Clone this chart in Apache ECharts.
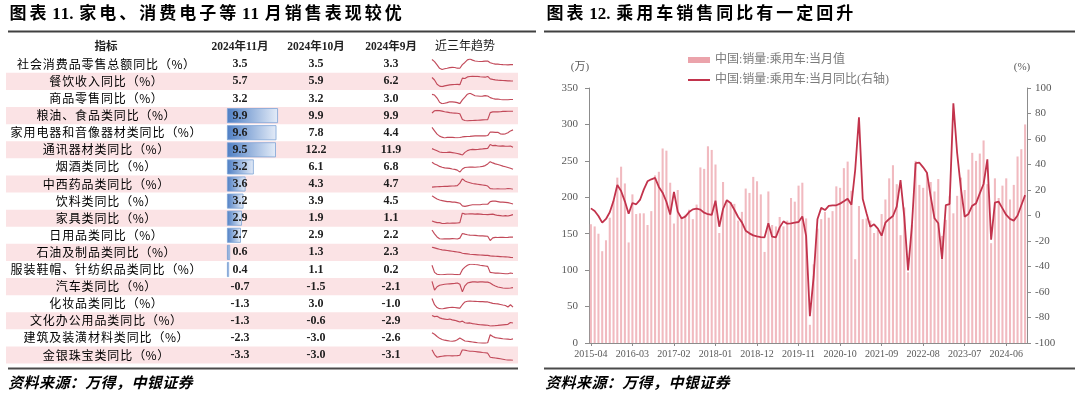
<!DOCTYPE html>
<html>
<head>
<meta charset="utf-8">
<script src="https://cdn.jsdelivr.net/npm/echarts@6.0.0/dist/echarts.min.js"></script>
<style>
html,body{margin:0;padding:0;background:#ffffff;}
#chart{width:1080px;height:395px;}
</style>
</head>
<body>
<div id="chart"></div>
<script>
// ================= LEFT TABLE DATA =================
const indicators = [
  '社会消费品零售总额同比（%）','餐饮收入同比（%）','商品零售同比（%）','粮油、食品类同比（%）',
  '家用电器和音像器材类同比（%）','通讯器材类同比（%）','烟酒类同比（%）','中西药品类同比（%）',
  '饮料类同比（%）','家具类同比（%）','日用品类同比（%）','石油及制品类同比（%）',
  '服装鞋帽、针纺织品类同比（%）','汽车类同比（%）','化妆品类同比（%）','文化办公用品类同比（%）',
  '建筑及装潢材料类同比（%）','金银珠宝类同比（%）'
];
const colHeaders = ['指标','2024年11月','2024年10月','2024年9月','近三年趋势'];
const nov2024 = [3.5,5.7,3.2,9.9,9.6,9.5,5.2,3.6,3.2,2.9,2.7,0.6,0.4,-0.7,-1.3,-1.3,-2.3,-3.3];
const oct2024 = [3.5,5.9,3.2,9.9,7.8,12.2,6.1,4.3,3.9,1.9,2.9,1.3,1.1,-1.5,3.0,-0.6,-3.0,-3.0];
const sep2024 = [3.3,6.2,3.0,9.9,4.4,11.9,6.8,4.7,4.5,1.1,2.2,2.3,0.2,-2.1,-1.0,-2.9,-2.6,-3.1];
// rows that carry a data bar (the category breakdown, not the three totals)
const barRowStart = 3;

// sparkline (近三年趋势) values
const trRetail   = [8.8,6.7,3.3,-0.2,-1.5,-0.7,-0.2,0.5,0.7,0.6,-0.1,-0.2,3.5,5.8,8.5,9.3,8.2,7.3,7.0,6.8,6.9,7.2,7.2,5.5,4.7,4.1,4.1,3.7,3.5,3.4,3.3,3.5,3.5];
const trCatering = [17.0,8.9,-5.0,-10.9,-12.7,-10.3,-8.4,-7.0,-6.0,-5.7,-5.1,-6.3,15.1,13.9,19.0,20.3,21.4,20.9,20.5,19.3,18.5,18.0,20.4,12.5,10.8,9.4,8.4,7.9,7.2,6.8,6.2,5.9,5.7];
const trGoods    = [7.0,6.5,4.3,1.2,0.1,0.5,0.9,1.6,1.5,1.3,0.9,0.2,2.9,4.9,7.1,7.8,6.9,6.0,5.8,5.6,5.7,6.1,5.8,4.6,4.0,3.5,3.6,3.2,3.0,3.0,3.0,3.2,3.2];
const trFood     = [8.8,10.2,10.5,10.3,10.0,9.6,9.3,9.0,8.8,8.7,8.6,8.3,4.5,3.8,3.6,3.7,3.8,3.9,4.0,4.1,4.2,4.3,4.4,9.0,9.5,9.6,9.5,9.6,9.8,9.8,9.9,9.9,9.9];
const trAppl     = [14.0,8.0,2.0,-1.5,-3.4,-4.8,-3.8,-3.5,-3.8,-4.2,-4.4,-4.0,-3.0,-2.5,-2.2,-2.0,-1.5,-1.2,-1.0,-1.0,-1.2,-1.0,-0.5,5.8,5.7,5.2,5.3,2.6,2.0,2.6,4.4,7.8,9.6];
const trComm     = [6.5,4.0,1.5,-1.0,-2.0,-2.3,-2.0,-1.5,-2.5,-3.5,-4.5,-6.0,-8.0,-2.0,2.0,4.0,4.8,4.1,4.6,5.3,5.9,6.6,7.0,15.7,13.2,13.8,12.4,12.2,12.8,11.9,11.9,12.2,9.5];
const trTobacco  = [11.5,10.0,9.0,7.8,7.0,6.5,6.3,6.0,5.5,5.2,4.5,2.7,5.5,6.8,7.0,7.1,7.2,7.0,7.3,7.5,7.8,8.5,10.0,12.0,10.9,10.0,9.5,8.8,8.0,7.5,6.8,6.1,5.2];
const trMedic    = [6.5,6.8,7.0,7.2,7.4,7.5,7.6,7.8,8.0,8.2,8.5,12.0,18.0,15.0,13.5,12.5,11.5,11.0,10.5,10.0,9.5,9.0,8.0,4.5,4.2,4.0,4.2,4.0,3.9,4.0,4.7,4.3,3.6];
const trDrink    = [11.0,9.5,8.0,7.0,6.5,6.0,5.5,5.5,5.0,5.0,4.5,4.0,1.5,1.0,1.5,2.0,2.5,2.5,2.5,2.5,3.0,3.0,3.0,5.5,6.0,6.0,5.5,5.0,5.0,4.8,4.5,3.9,3.2];
const trFurn     = [-5.4,-6.5,-7.5,-7.5,-8.5,-8.5,-8.0,-8.2,-8.0,-8.0,-7.9,-7.5,5.0,3.5,3.6,4.0,3.8,3.5,3.8,3.5,3.1,3.0,2.8,3.2,3.5,2.5,1.8,1.5,1.1,1.5,1.1,1.9,2.9];
const trDaily    = [14.3,8.0,3.0,0.0,-0.5,-0.2,0.0,-0.3,0.2,-0.1,-0.5,1.0,8.6,7.5,6.5,6.0,5.7,5.5,5.0,4.8,4.6,4.4,4.0,-3.0,1.5,2.2,2.0,2.2,2.3,2.0,2.2,2.9,2.7];
const trOil      = [30.0,28.0,26.0,24.0,22.5,21.5,20.5,19.5,18.5,17.5,16.5,15.5,13.0,12.0,11.0,10.0,9.5,9.0,8.5,8.0,7.5,7.0,6.9,5.5,5.0,4.5,4.0,3.5,3.0,2.8,2.3,1.3,0.6];
const trCloth    = [11.5,2.0,-0.5,-1.0,-1.2,-0.8,-0.6,-0.5,-0.6,-0.8,-1.0,-1.2,5.5,9.0,11.5,12.8,12.8,12.4,12.2,11.5,11.0,10.5,10.0,1.9,1.5,1.0,0.9,0.8,0.5,0.2,0.2,1.1,0.4];
const trAuto     = [12.0,-5.7,1.0,4.0,5.0,6.0,6.5,7.0,7.5,8.0,8.6,6.0,-9.4,3.0,8.6,10.0,10.9,10.9,10.5,11.0,10.8,10.5,10.5,8.6,5.0,2.5,0.5,-0.5,-1.5,-2.0,-2.1,-1.5,-0.7];
const trCosm     = [14.2,3.0,-2.0,-4.0,-4.5,-3.5,-2.5,-2.0,-1.5,-2.0,-2.5,-3.0,3.0,8.0,9.2,9.5,9.2,9.0,8.8,8.5,8.5,8.2,8.0,6.7,5.5,4.9,4.5,3.5,2.5,1.7,-1.0,3.0,-1.3];
const trOffice   = [7.8,6.5,7.0,5.0,4.0,3.5,3.0,3.5,2.5,2.0,1.0,0.0,1.0,-1.0,-1.5,-1.2,-2.0,-2.5,-3.0,-3.4,-3.6,-3.8,-4.0,-5.0,-4.7,-4.5,-4.2,-3.8,-3.5,-3.2,-2.9,-0.6,-1.3];
const trBuild    = [6.2,4.0,1.0,-1.5,-3.0,-4.0,-4.5,-5.1,-5.5,-5.0,-3.5,-1.1,-3.0,-5.1,-5.5,-6.0,-6.5,-7.0,-7.5,-7.8,-8.0,-8.0,-7.5,3.4,1.0,-0.5,-1.0,-1.5,-2.0,-2.4,-2.6,-3.0,-2.3];
const trJewel    = [12.0,5.0,1.1,2.0,2.5,3.0,3.3,3.3,3.0,3.2,3.5,4.0,12.0,11.5,10.5,9.8,9.8,9.5,9.0,8.5,8.0,7.6,7.0,1.1,0.5,0.0,-0.5,-1.1,-1.8,-2.5,-3.1,-3.0,-3.3];
const trends = [trRetail,trCatering,trGoods,trFood,trAppl,trComm,trTobacco,trMedic,trDrink,
                trFurn,trDaily,trOil,trCloth,trAuto,trCosm,trOffice,trBuild,trJewel];

// ================= RIGHT CHART DATA =================
const months = [];
for (let y = 2015, m = 4; y < 2024 || (y === 2024 && m <= 11); ) {
  months.push(y + '-' + (m < 10 ? '0' + m : m));
  m++; if (m > 12) { m = 1; y++; }
}
// 中国:销量:乘用车:当月值 (万辆)
const carSales = [
  163,160,150,126,141,172,196,227,242,                 // 2015-04..12
  219,138,204,177,178,178,162,181,230,235,267,264,     // 2016
  220,164,210,173,176,183,170,190,241,239,270,265,     // 2017
  245,151,221,194,193,191,168,180,212,206,228,222,     // 2018
  204,125,208,162,160,173,160,168,199,194,216,220,     // 2019
  171,25,108,157,170,180,172,181,215,213,240,249,      // 2020
  209,115,188,170,171,168,151,155,177,197,226,244,     // 2021
  218,148,186,97,162,250,217,213,233,221,208,225,      // 2022
  147,169,202,178,202,227,210,238,261,250,260,278,     // 2023
  218,137,226,199,216,226,197,217,256,266,300          // 2024-01..11
];
// 中国:销量:乘用车:当月同比 (%)
const carYoY = [
  5.6,3.5,-0.4,-5.6,-2.7,2.5,11.6,24.0,19.2,
  11.1,1.4,9.8,8.8,12.2,20.3,26.8,28.4,29.5,22.4,17.9,10.8,
  0.7,18.5,3.0,-2.2,-0.9,2.7,4.8,5.4,4.6,2.2,1.0,0.4,
  11.6,-8.8,5.1,12.0,9.8,4.5,-1.2,-5.4,-11.9,-14.0,-15.6,-16.3,
  -16.9,-17.1,-6.1,-16.6,-17.1,-9.3,-4.6,-6.4,-6.1,-5.6,-5.1,-0.7,
  -16.0,-79.0,-48.0,-3.0,6.0,4.3,7.5,8.0,8.0,9.3,11.1,13.2,
  8.5,35.7,77.0,13.0,1.7,-8.8,-6.9,-10.3,-15.8,-5.6,-2.7,-0.4,
  6.9,27.8,-0.9,-43.0,-8.8,41.0,41.4,37.8,33.6,14.8,-2.2,-6.1,
  -34.0,8.2,9.0,88.0,49.0,21.3,-0.9,1.2,7.7,9.5,17.4,24.7,
  44.0,-19.0,10.1,10.8,5.6,0.4,-2.7,-4.0,0.0,8.0,16.0
];
const salesName = '中国:销量:乘用车:当月值';
const yoyName = '中国:销量:乘用车:当月同比(右轴)';
const leftTitle = '图表 11. 家电、消费电子等 11 月销售表现较优';
const rightTitle = '图表 12. 乘用车销售同比有一定回升';
const sourceNote = '资料来源：万得，中银证券';

// ================= LAYOUT =================
const ROW_TOP = 55.75, ROW_H = 17.1, NROW = indicators.length;
const COL_NAME = 106, COL_NOV = 240, COL_OCT = 316, COL_SEP = 391, COL_TREND = 465;
const SERIF = '"Liberation Serif","Noto Sans CJK SC"';
const CJK = '"Noto Sans CJK SC"';

// letter-spaced text via rich tokens: CJK characters get side padding, Latin characters stay tight
function spaced(str) {
  return Array.from(str).map(ch => (ch.charCodeAt(0) > 0x2000 ? '{s|' : '{a|') + ch + '}').join('');
}

const grids = [], xAxes = [], yAxes = [], series = [];
grids.push({left:0, top:ROW_TOP, width:540, height:ROW_H*NROW, outerBoundsMode:'none'});
xAxes.push({type:'value', gridIndex:0, min:0, max:540, show:false});
yAxes.push({type:'category', gridIndex:0, data:indicators, inverse:true, show:false});
grids.push({left:227, top:ROW_TOP, width:52, height:ROW_H*NROW, outerBoundsMode:'none'});
xAxes.push({type:'value', gridIndex:1, min:0, max:10.1, show:false});
yAxes.push({type:'category', gridIndex:1, data:indicators, inverse:true, show:false});
trends.forEach((arr, k) => {
  const g = grids.length;
  grids.push({left:432, width:81, top:ROW_TOP + k*ROW_H + 3.3, height:10.5, outerBoundsMode:'none'});
  xAxes.push({type:'category', gridIndex:g, data:arr.map((_, j) => j), boundaryGap:false, show:false});
  yAxes.push({type:'value', gridIndex:g, min:'dataMin', max:'dataMax', show:false, scale:true});
  series.push({type:'line', xAxisIndex:g, yAxisIndex:g, data:arr, symbol:'none', silent:true,
    lineStyle:{color:'#C24A5A', width:1.15}, z:4});
});
const GM = grids.length;
grids.push({left:589, top:88, width:438, height:255, outerBoundsMode:'none'});
const axisGrey = '#8c8c8c';
xAxes.push({type:'category', gridIndex:GM, data:months, boundaryGap:true,
  axisLine:{show:true, lineStyle:{color:axisGrey, width:1}},
  axisTick:{show:true, interval:10, alignWithLabel:true, length:3, lineStyle:{color:axisGrey}},
  axisLabel:{interval:10, fontSize:10, color:'#595959', fontFamily:'Liberation Serif', margin:6},
  splitLine:{show:false}});
const YL = yAxes.length;
yAxes.push({type:'value', gridIndex:GM, position:'left', min:0, max:350, interval:50,
  axisLine:{show:true, lineStyle:{color:axisGrey}},
  axisTick:{show:true, length:4, lineStyle:{color:axisGrey}},
  axisLabel:{fontSize:11, color:'#595959', fontFamily:'Liberation Serif', margin:11},
  splitLine:{show:false}});
yAxes.push({type:'value', gridIndex:GM, position:'right', min:-100, max:100, interval:20,
  axisLine:{show:true, lineStyle:{color:axisGrey}},
  axisTick:{show:true, length:4, lineStyle:{color:axisGrey}},
  axisLabel:{fontSize:11, color:'#595959', fontFamily:'Liberation Serif', margin:8},
  splitLine:{show:false}});

series.push({type:'custom', xAxisIndex:0, yAxisIndex:0, silent:true, z:1,
  data: indicators.map((_, i) => [0, i]),
  renderItem: (params, api) => {
    const i = api.value(1);
    if (i % 2 === 0) return null;
    const y = api.coord([0, i])[1];
    const h = api.size([0, 1])[1];
    const x0 = api.coord([6, i])[0], x1 = api.coord([518, i])[0];
    return {type:'rect', shape:{x:x0, y:y - h/2, width:x1 - x0, height:h}, style:{fill:'#FBE3E5'}};
  }});
series.push({type:'bar', xAxisIndex:1, yAxisIndex:1, barWidth:15, silent:true, z:2,
  data: nov2024.map((v, i) => (i < barRowStart ? '-' : v)),
  itemStyle:{color:new echarts.graphic.LinearGradient(0,0,1,0,[{offset:0,color:'#4F7FC4'},{offset:1,color:'#E4ECF8'}]),
    borderColor:'#7EA3D6', borderWidth:0.8}});
const nameRich = {s:{fontFamily:CJK, fontSize:12, color:'#505050', padding:[0,0.45,0,0.45]},
                  a:{fontFamily:CJK, fontSize:12, color:'#505050'}};
series.push({type:'custom', xAxisIndex:0, yAxisIndex:0, silent:true, z:5,
  data: indicators.map((_, i) => [0, i]),
  renderItem: (params, api) => {
    const i = api.value(1);
    const y = api.coord([0, i])[1];
    const t = (col, txt, font, fill) => ({type:'text', x:api.coord([col, i])[0], y:y,
      style:{text:txt, font:font, fill:fill, textAlign:'center', textVerticalAlign:'middle'}});
    const vf = 'bold 12px "Liberation Serif"';
    return {type:'group', children:[
      {type:'text', x:api.coord([COL_NAME, i])[0], y:y,
        style:{text:spaced(indicators[i]), textAlign:'center', textVerticalAlign:'middle', rich:nameRich}},
      t(COL_NOV, nov2024[i].toFixed(1), vf, '#1e1e1e'),
      t(COL_OCT, oct2024[i].toFixed(1), vf, '#1e1e1e'),
      t(COL_SEP, sep2024[i].toFixed(1), vf, '#1e1e1e')
    ]};
  }});
series.push({type:'bar', name:salesName, xAxisIndex:GM, yAxisIndex:YL, data:carSales, barWidth:'55%',
  itemStyle:{color:'#F1BAC0'}, z:2});
series.push({type:'line', name:yoyName, xAxisIndex:GM, yAxisIndex:YL + 1, data:carYoY, symbol:'none',
  lineStyle:{color:'#C2334C', width:1.8}, itemStyle:{color:'#C2334C'}, z:3});

const headerY = 47;
const headerX = [COL_NAME, COL_NOV, COL_OCT, COL_SEP, COL_TREND];
const titleRich = {s:{fontFamily:SERIF, fontSize:17, fontWeight:'bold', color:'#1a1a1a', padding:[0,1.5,0,1.5]},
                   a:{fontFamily:SERIF, fontSize:17, fontWeight:'bold', color:'#1a1a1a'}};
const noteRich = {s:{fontFamily:CJK, fontSize:15, fontWeight:'bold', fontStyle:'italic', color:'#1c2438', padding:[0,0.2,0,0.2]},
                  a:{fontFamily:CJK, fontSize:15, fontWeight:'bold', fontStyle:'italic', color:'#1c2438'}};
const graphics = [
  {type:'text', style:{text:spaced(leftTitle), x:8, y:15, rich:titleRich, textVerticalAlign:'middle'}},
  {type:'text', style:{text:spaced(rightTitle), x:545, y:15, rich:titleRich, textVerticalAlign:'middle'}},
  {type:'rect', shape:{x:8, y:30.5, width:528, height:2}, style:{fill:'#404040'}},
  {type:'rect', shape:{x:544, y:30.5, width:531, height:2}, style:{fill:'#404040'}},
  {type:'rect', shape:{x:8, y:367.5, width:510, height:2}, style:{fill:'#4a4a4a'}},
  {type:'rect', shape:{x:544, y:367.5, width:531, height:2}, style:{fill:'#4a4a4a'}},
  {type:'text', style:{text:spaced(sourceNote), x:8, y:382, rich:noteRich, textVerticalAlign:'middle'}},
  {type:'text', style:{text:spaced(sourceNote), x:545, y:382, rich:noteRich, textVerticalAlign:'middle'}},
  {type:'text', style:{text:'(万)', x:580, y:67, font:'11px ' + SERIF, fill:'#595959', textAlign:'center', textVerticalAlign:'middle'}},
  {type:'text', style:{text:'(%)', x:1022, y:67, font:'11px ' + SERIF, fill:'#595959', textAlign:'center', textVerticalAlign:'middle'}}
];
colHeaders.forEach((h, k) => {
  graphics.push({type:'text', style:{text:h, x:headerX[k], y:headerY,
    font:(k === 4 ? '12px ' : 'bold 11.5px ') + SERIF, fill:'#222', textAlign:'center', textVerticalAlign:'middle'}});
});

const chart = echarts.init(document.getElementById('chart'), null, {renderer:'canvas'});
chart.setOption({
  animation:false,
  backgroundColor:'#ffffff',
  grid:grids, xAxis:xAxes, yAxis:yAxes, series:series,
  legend:{
    data:[{name:salesName, icon:'rect', itemStyle:{color:'#EBA3AB'}},
          {name:yoyName, icon:'path://M0,0H22V2H0Z'}],
    orient:'vertical', left:683, top:49, itemWidth:22, itemHeight:6, itemGap:8,
    textStyle:{fontSize:12, color:'#7a7a7a', fontFamily:SERIF}},
  graphic:graphics
});
</script>
</body>
</html>
